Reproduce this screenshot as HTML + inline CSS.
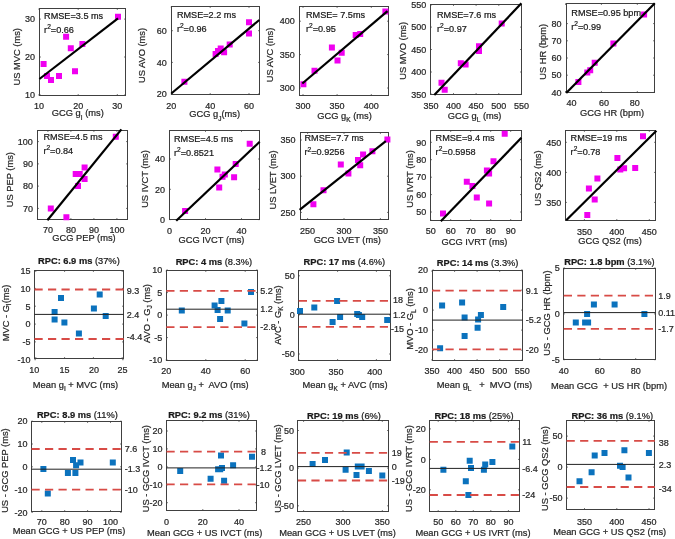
<!DOCTYPE html>
<html><head><meta charset="utf-8"><style>
html,body{margin:0;padding:0;background:#fff;width:675px;height:539px;overflow:hidden}
svg{display:block;font-family:"Liberation Sans", sans-serif;will-change:transform} text{stroke-width:0.22px}
</style></head><body>
<svg width="675" height="539" viewBox="0 0 675 539">
<rect width="675" height="539" fill="#fff"/>
<rect x="39.5" y="8.5" width="86.0" height="87.0" fill="none" stroke="#404040" stroke-width="1"/>
<path d="M39.0 95.5v-1.2M39.0 8.5v1.2" stroke="#404040" stroke-width="1"/>
<path d="M78.2 95.5v-1.2M78.2 8.5v1.2" stroke="#404040" stroke-width="1"/>
<path d="M117.3 95.5v-1.2M117.3 8.5v1.2" stroke="#404040" stroke-width="1"/>
<path d="M39.5 95.0h1.2M125.5 95.0h-1.2" stroke="#404040" stroke-width="1"/>
<path d="M39.5 57.0h1.2M125.5 57.0h-1.2" stroke="#404040" stroke-width="1"/>
<path d="M39.5 19.1h1.2M125.5 19.1h-1.2" stroke="#404040" stroke-width="1"/>
<path d="M40.6 61.0h6v6h-6zM44.0 72.9h6v6h-6zM48.0 77.0h6v6h-6zM56.0 72.9h6v6h-6zM63.1 33.7h6v6h-6zM67.8 45.3h6v6h-6zM72.0 68.3h6v6h-6zM79.4 41.1h6v6h-6zM115.0 13.7h6v6h-6z" fill="#f000f0"/>
<line x1="39.4" y1="79" x2="118" y2="18.3" stroke="#000" stroke-width="2.2"/>
<text x="34.9" y="98.2" font-size="9.0" text-anchor="end" fill="#262626" stroke="#262626" >10</text>
<text x="34.9" y="60.3" font-size="9.0" text-anchor="end" fill="#262626" stroke="#262626" >20</text>
<text x="34.9" y="22.3" font-size="9.0" text-anchor="end" fill="#262626" stroke="#262626" >30</text>
<text x="39.0" y="109.2" font-size="9.0" text-anchor="middle" fill="#262626" stroke="#262626" >10</text>
<text x="78.2" y="109.2" font-size="9.0" text-anchor="middle" fill="#262626" stroke="#262626" >20</text>
<text x="117.3" y="109.2" font-size="9.0" text-anchor="middle" fill="#262626" stroke="#262626" >30</text>
<text x="44.1" y="18.9" font-size="9.15" text-anchor="start" fill="#1a1a1a" stroke="#1a1a1a" >RMSE=3.5 ms</text>
<text x="44.1" y="32.9" font-size="9.15" text-anchor="start" fill="#1a1a1a" stroke="#1a1a1a" >r<tspan font-size="6.6" dy="-3.8">2</tspan><tspan dy="3.8">=0.66</tspan></text>
<text x="16.7" y="60.1" font-size="9.3" text-anchor="middle" fill="#262626" stroke="#262626" transform="rotate(-90 16.7 56.8)">US MVC (ms)</text>
<text x="77.8" y="115.8" font-size="9.3" text-anchor="middle" fill="#262626" stroke="#262626">GCG g<tspan font-size="6.5" dy="4.2">I</tspan><tspan dy="-4.2"> </tspan>(ms)</text>
<rect x="171.5" y="6.5" width="88.0" height="88.0" fill="none" stroke="#404040" stroke-width="1"/>
<path d="M171.3 94.5v-1.2M171.3 6.5v1.2" stroke="#404040" stroke-width="1"/>
<path d="M210.2 94.5v-1.2M210.2 6.5v1.2" stroke="#404040" stroke-width="1"/>
<path d="M249.0 94.5v-1.2M249.0 6.5v1.2" stroke="#404040" stroke-width="1"/>
<path d="M171.5 94.0h1.2M259.5 94.0h-1.2" stroke="#404040" stroke-width="1"/>
<path d="M171.5 62.4h1.2M259.5 62.4h-1.2" stroke="#404040" stroke-width="1"/>
<path d="M171.5 30.7h1.2M259.5 30.7h-1.2" stroke="#404040" stroke-width="1"/>
<path d="M181.4 78.7h6v6h-6zM212.6 51.1h6v6h-6zM217.7 45.6h6v6h-6zM221.1 49.3h6v6h-6zM226.7 41.5h6v6h-6zM246.0 19.3h6v6h-6zM246.0 30.4h6v6h-6zM215.0 48.0h6v6h-6z" fill="#f000f0"/>
<line x1="171.3" y1="93.5" x2="259.3" y2="20" stroke="#000" stroke-width="2.2"/>
<text x="166.8" y="97.2" font-size="9.0" text-anchor="end" fill="#262626" stroke="#262626" >20</text>
<text x="166.8" y="65.6" font-size="9.0" text-anchor="end" fill="#262626" stroke="#262626" >40</text>
<text x="166.8" y="33.9" font-size="9.0" text-anchor="end" fill="#262626" stroke="#262626" >60</text>
<text x="171.3" y="109.2" font-size="9.0" text-anchor="middle" fill="#262626" stroke="#262626" >20</text>
<text x="210.2" y="109.2" font-size="9.0" text-anchor="middle" fill="#262626" stroke="#262626" >40</text>
<text x="249.0" y="109.2" font-size="9.0" text-anchor="middle" fill="#262626" stroke="#262626" >60</text>
<text x="176.9" y="18.0" font-size="9.15" text-anchor="start" fill="#1a1a1a" stroke="#1a1a1a" >RMSE=2.2 ms</text>
<text x="176.9" y="32.0" font-size="9.15" text-anchor="start" fill="#1a1a1a" stroke="#1a1a1a" >r<tspan font-size="6.6" dy="-3.8">2</tspan><tspan dy="3.8">=0.96</tspan></text>
<text x="142.0" y="58.8" font-size="9.3" text-anchor="middle" fill="#262626" stroke="#262626" transform="rotate(-90 142.0 55.5)">US AVO (ms)</text>
<text x="214.6" y="117.3" font-size="9.3" text-anchor="middle" fill="#262626" stroke="#262626">GCG g<tspan font-size="6.5" dy="3.5">J</tspan><tspan dy="-3.5">(ms)</tspan></text>
<rect x="299.5" y="6.5" width="89.0" height="89.0" fill="none" stroke="#404040" stroke-width="1"/>
<path d="M303.0 95.5v-1.2M303.0 6.5v1.2" stroke="#404040" stroke-width="1"/>
<path d="M337.1 95.5v-1.2M337.1 6.5v1.2" stroke="#404040" stroke-width="1"/>
<path d="M371.3 95.5v-1.2M371.3 6.5v1.2" stroke="#404040" stroke-width="1"/>
<path d="M299.5 88.0h1.2M388.5 88.0h-1.2" stroke="#404040" stroke-width="1"/>
<path d="M299.5 54.6h1.2M388.5 54.6h-1.2" stroke="#404040" stroke-width="1"/>
<path d="M299.5 21.2h1.2M388.5 21.2h-1.2" stroke="#404040" stroke-width="1"/>
<path d="M300.4 81.2h6v6h-6zM311.5 67.8h6v6h-6zM328.9 44.4h6v6h-6zM334.5 57.6h6v6h-6zM338.7 49.8h6v6h-6zM352.7 32.0h6v6h-6zM357.2 30.9h6v6h-6zM382.4 8.6h6v6h-6z" fill="#f000f0"/>
<line x1="302.3" y1="83.5" x2="387.5" y2="11.2" stroke="#000" stroke-width="2.2"/>
<text x="294.9" y="91.2" font-size="9.0" text-anchor="end" fill="#262626" stroke="#262626" >300</text>
<text x="294.9" y="57.8" font-size="9.0" text-anchor="end" fill="#262626" stroke="#262626" >350</text>
<text x="294.9" y="24.4" font-size="9.0" text-anchor="end" fill="#262626" stroke="#262626" >400</text>
<text x="303.0" y="109.2" font-size="9.0" text-anchor="middle" fill="#262626" stroke="#262626" >300</text>
<text x="337.1" y="109.2" font-size="9.0" text-anchor="middle" fill="#262626" stroke="#262626" >350</text>
<text x="371.3" y="109.2" font-size="9.0" text-anchor="middle" fill="#262626" stroke="#262626" >400</text>
<text x="306.0" y="18.0" font-size="9.15" text-anchor="start" fill="#1a1a1a" stroke="#1a1a1a" >RMSE= 7.5ms</text>
<text x="306.0" y="32.0" font-size="9.15" text-anchor="start" fill="#1a1a1a" stroke="#1a1a1a" >r<tspan font-size="6.6" dy="-3.8">2</tspan><tspan dy="3.8">=0.95</tspan></text>
<text x="270.0" y="58.3" font-size="9.3" text-anchor="middle" fill="#262626" stroke="#262626" transform="rotate(-90 270.0 55.0)">US AVC (ms)</text>
<text x="344.5" y="118.8" font-size="9.3" text-anchor="middle" fill="#262626" stroke="#262626">GCG g<tspan font-size="6.5" dy="3.5">K</tspan><tspan dy="-3.5"> </tspan>(ms)</text>
<rect x="430.5" y="4.5" width="91.0" height="90.0" fill="none" stroke="#404040" stroke-width="1"/>
<path d="M430.9 94.5v-1.2M430.9 4.5v1.2" stroke="#404040" stroke-width="1"/>
<path d="M453.5 94.5v-1.2M453.5 4.5v1.2" stroke="#404040" stroke-width="1"/>
<path d="M476.1 94.5v-1.2M476.1 4.5v1.2" stroke="#404040" stroke-width="1"/>
<path d="M498.8 94.5v-1.2M498.8 4.5v1.2" stroke="#404040" stroke-width="1"/>
<path d="M521.4 94.5v-1.2M521.4 4.5v1.2" stroke="#404040" stroke-width="1"/>
<path d="M430.5 94.5h1.2M521.5 94.5h-1.2" stroke="#404040" stroke-width="1"/>
<path d="M430.5 72.0h1.2M521.5 72.0h-1.2" stroke="#404040" stroke-width="1"/>
<path d="M430.5 49.5h1.2M521.5 49.5h-1.2" stroke="#404040" stroke-width="1"/>
<path d="M430.5 27.1h1.2M521.5 27.1h-1.2" stroke="#404040" stroke-width="1"/>
<path d="M430.5 4.6h1.2M521.5 4.6h-1.2" stroke="#404040" stroke-width="1"/>
<path d="M438.5 79.8h6v6h-6zM441.7 86.8h6v6h-6zM457.8 60.2h6v6h-6zM462.6 61.4h6v6h-6zM476.0 43.3h6v6h-6zM476.0 48.0h6v6h-6zM498.7 20.5h6v6h-6z" fill="#f000f0"/>
<line x1="434.3" y1="95" x2="521.4" y2="3.3" stroke="#000" stroke-width="2.2"/>
<text x="426.4" y="97.7" font-size="9.0" text-anchor="end" fill="#262626" stroke="#262626" >350</text>
<text x="426.4" y="75.3" font-size="9.0" text-anchor="end" fill="#262626" stroke="#262626" >400</text>
<text x="426.4" y="52.8" font-size="9.0" text-anchor="end" fill="#262626" stroke="#262626" >450</text>
<text x="426.4" y="30.3" font-size="9.0" text-anchor="end" fill="#262626" stroke="#262626" >500</text>
<text x="426.4" y="7.8" font-size="9.0" text-anchor="end" fill="#262626" stroke="#262626" >550</text>
<text x="430.9" y="109.2" font-size="9.0" text-anchor="middle" fill="#262626" stroke="#262626" >350</text>
<text x="453.5" y="109.2" font-size="9.0" text-anchor="middle" fill="#262626" stroke="#262626" >400</text>
<text x="476.1" y="109.2" font-size="9.0" text-anchor="middle" fill="#262626" stroke="#262626" >450</text>
<text x="498.8" y="109.2" font-size="9.0" text-anchor="middle" fill="#262626" stroke="#262626" >500</text>
<text x="521.4" y="109.2" font-size="9.0" text-anchor="middle" fill="#262626" stroke="#262626" >550</text>
<text x="437.0" y="17.5" font-size="9.15" text-anchor="start" fill="#1a1a1a" stroke="#1a1a1a" >RMSE=7.6 ms</text>
<text x="437.0" y="31.5" font-size="9.15" text-anchor="start" fill="#1a1a1a" stroke="#1a1a1a" >r<tspan font-size="6.6" dy="-3.8">2</tspan><tspan dy="3.8">=0.97</tspan></text>
<text x="402.8" y="54.1" font-size="9.3" text-anchor="middle" fill="#262626" stroke="#262626" transform="rotate(-90 402.8 50.8)">US MVO (ms)</text>
<text x="474.6" y="118.8" font-size="9.3" text-anchor="middle" fill="#262626" stroke="#262626">GCG g<tspan font-size="6.5" dy="3.5">L</tspan><tspan dy="-3.5"> </tspan>(ms)</text>
<rect x="566.5" y="3.5" width="88.0" height="89.0" fill="none" stroke="#404040" stroke-width="1"/>
<path d="M565.5 92.5v-1.2M565.5 3.5v1.2" stroke="#404040" stroke-width="1"/>
<path d="M601.4 92.5v-1.2M601.4 3.5v1.2" stroke="#404040" stroke-width="1"/>
<path d="M637.3 92.5v-1.2M637.3 3.5v1.2" stroke="#404040" stroke-width="1"/>
<path d="M566.5 92.4h1.2M654.5 92.4h-1.2" stroke="#404040" stroke-width="1"/>
<path d="M566.5 75.2h1.2M654.5 75.2h-1.2" stroke="#404040" stroke-width="1"/>
<path d="M566.5 58.0h1.2M654.5 58.0h-1.2" stroke="#404040" stroke-width="1"/>
<path d="M566.5 40.8h1.2M654.5 40.8h-1.2" stroke="#404040" stroke-width="1"/>
<path d="M566.5 23.6h1.2M654.5 23.6h-1.2" stroke="#404040" stroke-width="1"/>
<path d="M575.4 79.0h6v6h-6zM584.3 69.4h6v6h-6zM587.2 67.2h6v6h-6zM591.7 59.8h6v6h-6zM610.4 40.4h6v6h-6zM641.1 11.5h6v6h-6z" fill="#f000f0"/>
<line x1="566.2" y1="93.1" x2="654.8" y2="3.3" stroke="#000" stroke-width="2.2"/>
<text x="561.5" y="95.6" font-size="9.0" text-anchor="end" fill="#262626" stroke="#262626" >40</text>
<text x="561.5" y="78.4" font-size="9.0" text-anchor="end" fill="#262626" stroke="#262626" >50</text>
<text x="561.5" y="61.2" font-size="9.0" text-anchor="end" fill="#262626" stroke="#262626" >60</text>
<text x="561.5" y="44.0" font-size="9.0" text-anchor="end" fill="#262626" stroke="#262626" >70</text>
<text x="561.5" y="26.8" font-size="9.0" text-anchor="end" fill="#262626" stroke="#262626" >80</text>
<text x="571.4" y="105.6" font-size="9.0" text-anchor="middle" fill="#262626" stroke="#262626" >40</text>
<text x="604.0" y="105.6" font-size="9.0" text-anchor="middle" fill="#262626" stroke="#262626" >60</text>
<text x="634.8" y="105.6" font-size="9.0" text-anchor="middle" fill="#262626" stroke="#262626" >80</text>
<text x="571.3" y="16.0" font-size="9.15" text-anchor="start" fill="#1a1a1a" stroke="#1a1a1a" >RMSE=0.95 bpm</text>
<text x="571.3" y="30.0" font-size="9.15" text-anchor="start" fill="#1a1a1a" stroke="#1a1a1a" >r<tspan font-size="6.6" dy="-3.8">2</tspan><tspan dy="3.8">=0.99</tspan></text>
<text x="542.8" y="55.1" font-size="9.3" text-anchor="middle" fill="#262626" stroke="#262626" transform="rotate(-90 542.8 51.8)">US HR (bpm)</text>
<text x="612.0" y="116.3" font-size="9.3" text-anchor="middle" fill="#262626" stroke="#262626">GCG HR (bpm)</text>
<rect x="37.5" y="130.5" width="90.0" height="89.0" fill="none" stroke="#404040" stroke-width="1"/>
<path d="M47.9 219.5v-1.2M47.9 130.5v1.2" stroke="#404040" stroke-width="1"/>
<path d="M70.9 219.5v-1.2M70.9 130.5v1.2" stroke="#404040" stroke-width="1"/>
<path d="M93.9 219.5v-1.2M93.9 130.5v1.2" stroke="#404040" stroke-width="1"/>
<path d="M116.9 219.5v-1.2M116.9 130.5v1.2" stroke="#404040" stroke-width="1"/>
<path d="M37.5 208.4h1.2M127.5 208.4h-1.2" stroke="#404040" stroke-width="1"/>
<path d="M37.5 186.1h1.2M127.5 186.1h-1.2" stroke="#404040" stroke-width="1"/>
<path d="M37.5 163.9h1.2M127.5 163.9h-1.2" stroke="#404040" stroke-width="1"/>
<path d="M37.5 141.6h1.2M127.5 141.6h-1.2" stroke="#404040" stroke-width="1"/>
<path d="M47.8 205.4h6v6h-6zM63.4 214.3h6v6h-6zM72.7 171.1h6v6h-6zM76.7 171.1h6v6h-6zM75.0 183.1h6v6h-6zM81.6 164.4h6v6h-6zM81.6 176.0h6v6h-6zM112.8 133.7h6v6h-6z" fill="#f000f0"/>
<line x1="47.4" y1="220.2" x2="121.4" y2="129.4" stroke="#000" stroke-width="2.2"/>
<text x="32.9" y="211.6" font-size="9.0" text-anchor="end" fill="#262626" stroke="#262626" >70</text>
<text x="32.9" y="189.4" font-size="9.0" text-anchor="end" fill="#262626" stroke="#262626" >80</text>
<text x="32.9" y="167.1" font-size="9.0" text-anchor="end" fill="#262626" stroke="#262626" >90</text>
<text x="32.9" y="144.8" font-size="9.0" text-anchor="end" fill="#262626" stroke="#262626" >100</text>
<text x="47.9" y="233.4" font-size="9.0" text-anchor="middle" fill="#262626" stroke="#262626" >70</text>
<text x="70.9" y="233.4" font-size="9.0" text-anchor="middle" fill="#262626" stroke="#262626" >80</text>
<text x="93.9" y="233.4" font-size="9.0" text-anchor="middle" fill="#262626" stroke="#262626" >90</text>
<text x="116.9" y="233.4" font-size="9.0" text-anchor="middle" fill="#262626" stroke="#262626" >100</text>
<text x="43.4" y="139.8" font-size="9.15" text-anchor="start" fill="#1a1a1a" stroke="#1a1a1a" >RMSE=4.5 ms</text>
<text x="43.4" y="153.8" font-size="9.15" text-anchor="start" fill="#1a1a1a" stroke="#1a1a1a" >r<tspan font-size="6.6" dy="-3.8">2</tspan><tspan dy="3.8">=0.84</tspan></text>
<text x="9.4" y="182.9" font-size="9.3" text-anchor="middle" fill="#262626" stroke="#262626" transform="rotate(-90 9.4 179.6)">US PEP (ms)</text>
<text x="84.0" y="241.1" font-size="9.3" text-anchor="middle" fill="#262626" stroke="#262626">GCG PEP (ms)</text>
<rect x="169.5" y="130.5" width="90.0" height="89.0" fill="none" stroke="#404040" stroke-width="1"/>
<path d="M169.5 219.5v-1.2M169.5 130.5v1.2" stroke="#404040" stroke-width="1"/>
<path d="M205.5 219.5v-1.2M205.5 130.5v1.2" stroke="#404040" stroke-width="1"/>
<path d="M241.5 219.5v-1.2M241.5 130.5v1.2" stroke="#404040" stroke-width="1"/>
<path d="M169.5 219.6h1.2M259.5 219.6h-1.2" stroke="#404040" stroke-width="1"/>
<path d="M169.5 189.3h1.2M259.5 189.3h-1.2" stroke="#404040" stroke-width="1"/>
<path d="M169.5 159.0h1.2M259.5 159.0h-1.2" stroke="#404040" stroke-width="1"/>
<path d="M182.1 207.9h6v6h-6zM214.4 166.4h6v6h-6zM216.2 184.5h6v6h-6zM219.5 173.8h6v6h-6zM221.8 171.6h6v6h-6zM231.1 174.2h6v6h-6zM232.7 160.9h6v6h-6zM246.7 140.8h6v6h-6z" fill="#f000f0"/>
<line x1="176.2" y1="220.7" x2="259.7" y2="141.8" stroke="#000" stroke-width="2.2"/>
<text x="165.0" y="222.8" font-size="9.0" text-anchor="end" fill="#262626" stroke="#262626" >0</text>
<text x="165.0" y="192.5" font-size="9.0" text-anchor="end" fill="#262626" stroke="#262626" >20</text>
<text x="165.0" y="162.2" font-size="9.0" text-anchor="end" fill="#262626" stroke="#262626" >40</text>
<text x="169.5" y="233.9" font-size="9.0" text-anchor="middle" fill="#262626" stroke="#262626" >0</text>
<text x="205.5" y="233.9" font-size="9.0" text-anchor="middle" fill="#262626" stroke="#262626" >20</text>
<text x="241.5" y="233.9" font-size="9.0" text-anchor="middle" fill="#262626" stroke="#262626" >40</text>
<text x="174.0" y="142.0" font-size="9.15" text-anchor="start" fill="#1a1a1a" stroke="#1a1a1a" >RMSE=4.5 ms</text>
<text x="174.0" y="156.0" font-size="9.15" text-anchor="start" fill="#1a1a1a" stroke="#1a1a1a" >r<tspan font-size="6.6" dy="-3.8">2</tspan><tspan dy="3.8">=0.8521</tspan></text>
<text x="145.0" y="182.3" font-size="9.3" text-anchor="middle" fill="#262626" stroke="#262626" transform="rotate(-90 145.0 179.0)">US IVCT (ms)</text>
<text x="211.5" y="242.7" font-size="9.3" text-anchor="middle" fill="#262626" stroke="#262626">GCG IVCT (ms)</text>
<rect x="300.5" y="132.5" width="88.0" height="87.0" fill="none" stroke="#404040" stroke-width="1"/>
<path d="M307.6 219.5v-1.2M307.6 132.5v1.2" stroke="#404040" stroke-width="1"/>
<path d="M344.0 219.5v-1.2M344.0 132.5v1.2" stroke="#404040" stroke-width="1"/>
<path d="M380.4 219.5v-1.2M380.4 132.5v1.2" stroke="#404040" stroke-width="1"/>
<path d="M300.5 212.4h1.2M388.5 212.4h-1.2" stroke="#404040" stroke-width="1"/>
<path d="M300.5 176.2h1.2M388.5 176.2h-1.2" stroke="#404040" stroke-width="1"/>
<path d="M300.5 140.0h1.2M388.5 140.0h-1.2" stroke="#404040" stroke-width="1"/>
<path d="M310.4 201.2h6v6h-6zM320.5 187.2h6v6h-6zM337.8 161.5h6v6h-6zM345.4 170.5h6v6h-6zM355.0 157.1h6v6h-6zM357.2 162.2h6v6h-6zM360.1 151.5h6v6h-6zM369.4 148.2h6v6h-6zM384.4 136.6h6v6h-6z" fill="#f000f0"/>
<line x1="299.6" y1="209.8" x2="385.8" y2="141.2" stroke="#000" stroke-width="2.2"/>
<text x="295.5" y="215.6" font-size="9.0" text-anchor="end" fill="#262626" stroke="#262626" >250</text>
<text x="295.5" y="179.4" font-size="9.0" text-anchor="end" fill="#262626" stroke="#262626" >300</text>
<text x="295.5" y="143.2" font-size="9.0" text-anchor="end" fill="#262626" stroke="#262626" >350</text>
<text x="307.6" y="233.9" font-size="9.0" text-anchor="middle" fill="#262626" stroke="#262626" >250</text>
<text x="344.0" y="233.9" font-size="9.0" text-anchor="middle" fill="#262626" stroke="#262626" >300</text>
<text x="380.4" y="233.9" font-size="9.0" text-anchor="middle" fill="#262626" stroke="#262626" >350</text>
<text x="304.5" y="141.4" font-size="9.15" text-anchor="start" fill="#1a1a1a" stroke="#1a1a1a" >RMSE=7.7 ms</text>
<text x="304.5" y="155.4" font-size="9.15" text-anchor="start" fill="#1a1a1a" stroke="#1a1a1a" >r<tspan font-size="6.6" dy="-3.8">2</tspan><tspan dy="3.8">=0.9256</tspan></text>
<text x="272.7" y="183.3" font-size="9.3" text-anchor="middle" fill="#262626" stroke="#262626" transform="rotate(-90 272.7 180.0)">US LVET (ms)</text>
<text x="347.3" y="243.1" font-size="9.3" text-anchor="middle" fill="#262626" stroke="#262626">GCG LVET (ms)</text>
<rect x="430.5" y="130.5" width="91.0" height="90.0" fill="none" stroke="#404040" stroke-width="1"/>
<path d="M430.7 220.5v-1.2M430.7 130.5v1.2" stroke="#404040" stroke-width="1"/>
<path d="M450.7 220.5v-1.2M450.7 130.5v1.2" stroke="#404040" stroke-width="1"/>
<path d="M470.7 220.5v-1.2M470.7 130.5v1.2" stroke="#404040" stroke-width="1"/>
<path d="M490.7 220.5v-1.2M490.7 130.5v1.2" stroke="#404040" stroke-width="1"/>
<path d="M510.7 220.5v-1.2M510.7 130.5v1.2" stroke="#404040" stroke-width="1"/>
<path d="M430.5 212.0h1.2M521.5 212.0h-1.2" stroke="#404040" stroke-width="1"/>
<path d="M430.5 194.6h1.2M521.5 194.6h-1.2" stroke="#404040" stroke-width="1"/>
<path d="M430.5 177.2h1.2M521.5 177.2h-1.2" stroke="#404040" stroke-width="1"/>
<path d="M430.5 159.7h1.2M521.5 159.7h-1.2" stroke="#404040" stroke-width="1"/>
<path d="M430.5 142.3h1.2M521.5 142.3h-1.2" stroke="#404040" stroke-width="1"/>
<path d="M440.0 210.5h6v6h-6zM463.8 178.7h6v6h-6zM469.4 183.1h6v6h-6zM473.8 194.5h6v6h-6zM483.9 167.6h6v6h-6zM486.1 170.5h6v6h-6zM486.1 200.5h6v6h-6zM490.5 158.2h6v6h-6zM501.7 130.8h6v6h-6z" fill="#f000f0"/>
<line x1="440.8" y1="221.3" x2="521.4" y2="137.8" stroke="#000" stroke-width="2.2"/>
<text x="426.2" y="215.2" font-size="9.0" text-anchor="end" fill="#262626" stroke="#262626" >50</text>
<text x="426.2" y="197.8" font-size="9.0" text-anchor="end" fill="#262626" stroke="#262626" >60</text>
<text x="426.2" y="180.4" font-size="9.0" text-anchor="end" fill="#262626" stroke="#262626" >70</text>
<text x="426.2" y="163.0" font-size="9.0" text-anchor="end" fill="#262626" stroke="#262626" >80</text>
<text x="426.2" y="145.5" font-size="9.0" text-anchor="end" fill="#262626" stroke="#262626" >90</text>
<text x="430.7" y="233.9" font-size="9.0" text-anchor="middle" fill="#262626" stroke="#262626" >50</text>
<text x="450.7" y="233.9" font-size="9.0" text-anchor="middle" fill="#262626" stroke="#262626" >60</text>
<text x="470.7" y="233.9" font-size="9.0" text-anchor="middle" fill="#262626" stroke="#262626" >70</text>
<text x="490.7" y="233.9" font-size="9.0" text-anchor="middle" fill="#262626" stroke="#262626" >80</text>
<text x="510.7" y="233.9" font-size="9.0" text-anchor="middle" fill="#262626" stroke="#262626" >90</text>
<text x="435.6" y="141.0" font-size="9.15" text-anchor="start" fill="#1a1a1a" stroke="#1a1a1a" >RMSE=9.4 ms</text>
<text x="435.6" y="155.0" font-size="9.15" text-anchor="start" fill="#1a1a1a" stroke="#1a1a1a" >r<tspan font-size="6.6" dy="-3.8">2</tspan><tspan dy="3.8">=0.5958</tspan></text>
<text x="409.4" y="182.3" font-size="9.3" text-anchor="middle" fill="#262626" stroke="#262626" transform="rotate(-90 409.4 179.0)">US IVRT (ms)</text>
<text x="474.5" y="244.7" font-size="9.3" text-anchor="middle" fill="#262626" stroke="#262626">GCG IVRT (ms)</text>
<rect x="565.5" y="130.5" width="90.0" height="90.0" fill="none" stroke="#404040" stroke-width="1"/>
<path d="M584.4 220.5v-1.2M584.4 130.5v1.2" stroke="#404040" stroke-width="1"/>
<path d="M616.8 220.5v-1.2M616.8 130.5v1.2" stroke="#404040" stroke-width="1"/>
<path d="M649.3 220.5v-1.2M649.3 130.5v1.2" stroke="#404040" stroke-width="1"/>
<path d="M565.5 202.4h1.2M655.5 202.4h-1.2" stroke="#404040" stroke-width="1"/>
<path d="M565.5 172.4h1.2M655.5 172.4h-1.2" stroke="#404040" stroke-width="1"/>
<path d="M565.5 142.3h1.2M655.5 142.3h-1.2" stroke="#404040" stroke-width="1"/>
<path d="M584.3 212.1h6v6h-6zM585.9 185.4h6v6h-6zM591.7 196.5h6v6h-6zM594.4 175.4h6v6h-6zM614.4 154.9h6v6h-6zM617.3 166.4h6v6h-6zM621.1 165.3h6v6h-6zM632.2 164.9h6v6h-6zM640.0 133.3h6v6h-6z" fill="#f000f0"/>
<line x1="566.2" y1="220.2" x2="656.4" y2="130.7" stroke="#000" stroke-width="2.2"/>
<text x="561.2" y="205.6" font-size="9.0" text-anchor="end" fill="#262626" stroke="#262626" >350</text>
<text x="561.2" y="175.6" font-size="9.0" text-anchor="end" fill="#262626" stroke="#262626" >400</text>
<text x="561.2" y="145.5" font-size="9.0" text-anchor="end" fill="#262626" stroke="#262626" >450</text>
<text x="584.4" y="234.5" font-size="9.0" text-anchor="middle" fill="#262626" stroke="#262626" >350</text>
<text x="616.8" y="234.5" font-size="9.0" text-anchor="middle" fill="#262626" stroke="#262626" >400</text>
<text x="649.3" y="234.5" font-size="9.0" text-anchor="middle" fill="#262626" stroke="#262626" >450</text>
<text x="570.6" y="141.0" font-size="9.15" text-anchor="start" fill="#1a1a1a" stroke="#1a1a1a" >RMSE=19 ms</text>
<text x="570.6" y="155.0" font-size="9.15" text-anchor="start" fill="#1a1a1a" stroke="#1a1a1a" >r<tspan font-size="6.6" dy="-3.8">2</tspan><tspan dy="3.8">=0.78</tspan></text>
<text x="537.7" y="181.3" font-size="9.3" text-anchor="middle" fill="#262626" stroke="#262626" transform="rotate(-90 537.7 178.0)">US QS2 (ms)</text>
<text x="610.0" y="244.3" font-size="9.3" text-anchor="middle" fill="#262626" stroke="#262626">GCG QS2 (ms)</text>
<rect x="34.5" y="270.5" width="89.0" height="88.0" fill="none" stroke="#404040" stroke-width="1"/>
<path d="M35.8 358.5v-1.2M35.8 270.5v1.2" stroke="#404040" stroke-width="1"/>
<path d="M64.6 358.5v-1.2M64.6 270.5v1.2" stroke="#404040" stroke-width="1"/>
<path d="M93.4 358.5v-1.2M93.4 270.5v1.2" stroke="#404040" stroke-width="1"/>
<path d="M122.2 358.5v-1.2M122.2 270.5v1.2" stroke="#404040" stroke-width="1"/>
<path d="M34.5 359.7h1.2M123.5 359.7h-1.2" stroke="#404040" stroke-width="1"/>
<path d="M34.5 341.9h1.2M123.5 341.9h-1.2" stroke="#404040" stroke-width="1"/>
<path d="M34.5 324.1h1.2M123.5 324.1h-1.2" stroke="#404040" stroke-width="1"/>
<path d="M34.5 306.2h1.2M123.5 306.2h-1.2" stroke="#404040" stroke-width="1"/>
<path d="M34.5 288.4h1.2M123.5 288.4h-1.2" stroke="#404040" stroke-width="1"/>
<path d="M34.5 270.6h1.2M123.5 270.6h-1.2" stroke="#404040" stroke-width="1"/>
<path d="M51.6 309.1h6v6h-6zM51.6 316.6h6v6h-6zM58.0 295.0h6v6h-6zM61.4 319.6h6v6h-6zM75.9 330.4h6v6h-6zM90.9 305.6h6v6h-6zM96.7 291.6h6v6h-6zM102.7 312.9h6v6h-6z" fill="#0b72bd"/>
<line x1="34.5" y1="289.5" x2="123.7" y2="289.5" stroke="#d84b46" stroke-width="1.8" stroke-dasharray="8.2 5.3" stroke-dashoffset="0"/>
<line x1="34.5" y1="339" x2="123.7" y2="339" stroke="#d84b46" stroke-width="1.8" stroke-dasharray="8.2 5.3" stroke-dashoffset="0"/>
<line x1="34.5" y1="314.4" x2="123.7" y2="314.4" stroke="#222" stroke-width="1"/>
<text x="30.5" y="362.9" font-size="9.0" text-anchor="end" fill="#262626" stroke="#262626" >-10</text>
<text x="30.5" y="345.1" font-size="9.0" text-anchor="end" fill="#262626" stroke="#262626" >-5</text>
<text x="30.5" y="327.3" font-size="9.0" text-anchor="end" fill="#262626" stroke="#262626" >0</text>
<text x="30.5" y="309.5" font-size="9.0" text-anchor="end" fill="#262626" stroke="#262626" >5</text>
<text x="30.5" y="291.7" font-size="9.0" text-anchor="end" fill="#262626" stroke="#262626" >10</text>
<text x="30.5" y="273.8" font-size="9.0" text-anchor="end" fill="#262626" stroke="#262626" >15</text>
<text x="34.3" y="372.8" font-size="9.0" text-anchor="middle" fill="#262626" stroke="#262626" >10</text>
<text x="64.6" y="372.8" font-size="9.0" text-anchor="middle" fill="#262626" stroke="#262626" >15</text>
<text x="93.9" y="372.8" font-size="9.0" text-anchor="middle" fill="#262626" stroke="#262626" >20</text>
<text x="122.4" y="372.8" font-size="9.0" text-anchor="middle" fill="#262626" stroke="#262626" >25</text>
<text x="126.7" y="293.6" font-size="9.0" text-anchor="start" fill="#262626" stroke="#262626" >9.3</text>
<text x="126.7" y="318.2" font-size="9.0" text-anchor="start" fill="#262626" stroke="#262626" >2.4</text>
<text x="126.7" y="340.0" font-size="9.0" text-anchor="start" fill="#262626" stroke="#262626" >-4.4</text>
<text x="78.9" y="263.8" font-size="9.3" text-anchor="middle" fill="#1a1a1a" stroke="#1a1a1a"><tspan font-weight="bold">RPC: 6.9 ms</tspan> <tspan>(37%)</tspan></text>
<text x="5.5" y="316.3" font-size="9.3" text-anchor="middle" fill="#262626" stroke="#262626" transform="rotate(-90 5.5 313.0)">MVC - G<tspan font-size="6.5" dy="2.5">I</tspan><tspan dy="-2.5">(ms)</tspan></text>
<text x="75.5" y="387.9" font-size="9.3" text-anchor="middle" fill="#262626" stroke="#262626">Mean g<tspan font-size="6.5" dy="3.5">I</tspan><tspan dy="-3.5"> </tspan>+ MVC (ms)</text>
<rect x="166.5" y="270.5" width="91.0" height="90.0" fill="none" stroke="#404040" stroke-width="1"/>
<path d="M166.3 360.5v-1.2M166.3 270.5v1.2" stroke="#404040" stroke-width="1"/>
<path d="M205.8 360.5v-1.2M205.8 270.5v1.2" stroke="#404040" stroke-width="1"/>
<path d="M245.2 360.5v-1.2M245.2 270.5v1.2" stroke="#404040" stroke-width="1"/>
<path d="M166.5 360.2h1.2M257.5 360.2h-1.2" stroke="#404040" stroke-width="1"/>
<path d="M166.5 337.6h1.2M257.5 337.6h-1.2" stroke="#404040" stroke-width="1"/>
<path d="M166.5 315.1h1.2M257.5 315.1h-1.2" stroke="#404040" stroke-width="1"/>
<path d="M166.5 292.6h1.2M257.5 292.6h-1.2" stroke="#404040" stroke-width="1"/>
<path d="M166.5 270.0h1.2M257.5 270.0h-1.2" stroke="#404040" stroke-width="1"/>
<path d="M178.8 307.6h6v6h-6zM211.6 302.6h6v6h-6zM214.6 307.1h6v6h-6zM218.4 297.9h6v6h-6zM217.1 315.9h6v6h-6zM224.7 307.6h6v6h-6zM241.4 320.4h6v6h-6zM248.0 289.1h6v6h-6z" fill="#0b72bd"/>
<line x1="166.3" y1="290.8" x2="257.2" y2="290.8" stroke="#d84b46" stroke-width="1.8" stroke-dasharray="8.2 5.3" stroke-dashoffset="0"/>
<line x1="166.3" y1="327.2" x2="257.2" y2="327.2" stroke="#d84b46" stroke-width="1.8" stroke-dasharray="8.2 5.3" stroke-dashoffset="0"/>
<line x1="166.3" y1="309.2" x2="257.2" y2="309.2" stroke="#222" stroke-width="1"/>
<text x="162.3" y="363.4" font-size="9.0" text-anchor="end" fill="#262626" stroke="#262626" >-10</text>
<text x="162.3" y="340.9" font-size="9.0" text-anchor="end" fill="#262626" stroke="#262626" >-5</text>
<text x="162.3" y="318.3" font-size="9.0" text-anchor="end" fill="#262626" stroke="#262626" >0</text>
<text x="162.3" y="295.8" font-size="9.0" text-anchor="end" fill="#262626" stroke="#262626" >5</text>
<text x="162.3" y="273.2" font-size="9.0" text-anchor="end" fill="#262626" stroke="#262626" >10</text>
<text x="166.3" y="374.0" font-size="9.0" text-anchor="middle" fill="#262626" stroke="#262626" >20</text>
<text x="205.8" y="374.0" font-size="9.0" text-anchor="middle" fill="#262626" stroke="#262626" >40</text>
<text x="245.2" y="374.0" font-size="9.0" text-anchor="middle" fill="#262626" stroke="#262626" >60</text>
<text x="260.2" y="294.0" font-size="9.0" text-anchor="start" fill="#262626" stroke="#262626" >5.2</text>
<text x="260.2" y="312.4" font-size="9.0" text-anchor="start" fill="#262626" stroke="#262626" >1.2</text>
<text x="260.2" y="330.4" font-size="9.0" text-anchor="start" fill="#262626" stroke="#262626" >-2.8</text>
<text x="213.9" y="265.3" font-size="9.3" text-anchor="middle" fill="#1a1a1a" stroke="#1a1a1a"><tspan font-weight="bold">RPC: 4 ms</tspan> <tspan>(8.3%)</tspan></text>
<text x="146.3" y="316.8" font-size="9.3" text-anchor="middle" fill="#262626" stroke="#262626" transform="rotate(-90 146.3 313.5)">AVO - G<tspan font-size="6.5" dy="2.5">J</tspan><tspan dy="-2.5"> </tspan>(ms)</text>
<text x="205.2" y="387.9" font-size="9.3" text-anchor="middle" fill="#262626" stroke="#262626">Mean g<tspan font-size="6.5" dy="3.5">J</tspan><tspan dy="-3.5"> </tspan>+&#160; AVO (ms)</text>
<rect x="298.5" y="270.5" width="92.0" height="90.0" fill="none" stroke="#404040" stroke-width="1"/>
<path d="M298.8 360.5v-1.2M298.8 270.5v1.2" stroke="#404040" stroke-width="1"/>
<path d="M337.6 360.5v-1.2M337.6 270.5v1.2" stroke="#404040" stroke-width="1"/>
<path d="M376.4 360.5v-1.2M376.4 270.5v1.2" stroke="#404040" stroke-width="1"/>
<path d="M298.5 354.0h1.2M390.5 354.0h-1.2" stroke="#404040" stroke-width="1"/>
<path d="M298.5 314.9h1.2M390.5 314.9h-1.2" stroke="#404040" stroke-width="1"/>
<path d="M298.5 275.8h1.2M390.5 275.8h-1.2" stroke="#404040" stroke-width="1"/>
<path d="M297.0 307.9h6v6h-6zM311.3 304.6h6v6h-6zM334.1 297.9h6v6h-6zM329.6 318.9h6v6h-6zM337.1 313.9h6v6h-6zM354.2 310.9h6v6h-6zM355.9 312.1h6v6h-6zM359.2 313.9h6v6h-6zM384.2 317.1h6v6h-6z" fill="#0b72bd"/>
<line x1="298.8" y1="300.9" x2="390.7" y2="300.9" stroke="#d84b46" stroke-width="1.8" stroke-dasharray="8.2 5.3" stroke-dashoffset="0"/>
<line x1="298.8" y1="326.9" x2="390.7" y2="326.9" stroke="#d84b46" stroke-width="1.8" stroke-dasharray="8.2 5.3" stroke-dashoffset="0"/>
<line x1="298.8" y1="314.2" x2="390.7" y2="314.2" stroke="#222" stroke-width="1"/>
<text x="294.8" y="357.2" font-size="9.0" text-anchor="end" fill="#262626" stroke="#262626" >-50</text>
<text x="294.8" y="318.1" font-size="9.0" text-anchor="end" fill="#262626" stroke="#262626" >0</text>
<text x="294.8" y="279.0" font-size="9.0" text-anchor="end" fill="#262626" stroke="#262626" >50</text>
<text x="297.3" y="375.2" font-size="9.0" text-anchor="middle" fill="#262626" stroke="#262626" >300</text>
<text x="336.0" y="375.2" font-size="9.0" text-anchor="middle" fill="#262626" stroke="#262626" >350</text>
<text x="374.7" y="375.2" font-size="9.0" text-anchor="middle" fill="#262626" stroke="#262626" >400</text>
<text x="393.0" y="302.5" font-size="9.0" text-anchor="start" fill="#262626" stroke="#262626" >18</text>
<text x="393.0" y="317.8" font-size="9.0" text-anchor="start" fill="#262626" stroke="#262626" >1.2</text>
<text x="391.0" y="331.6" font-size="9.0" text-anchor="start" fill="#262626" stroke="#262626" >-15</text>
<text x="344.4" y="265.3" font-size="9.3" text-anchor="middle" fill="#1a1a1a" stroke="#1a1a1a"><tspan font-weight="bold">RPC: 17 ms</tspan> <tspan>(4.6%)</tspan></text>
<text x="277.5" y="318.3" font-size="9.3" text-anchor="middle" fill="#262626" stroke="#262626" transform="rotate(-90 277.5 315.0)">AVC - G<tspan font-size="6.5" dy="2.5">K</tspan><tspan dy="-2.5"> </tspan>(ms)</text>
<text x="345.0" y="387.9" font-size="9.3" text-anchor="middle" fill="#262626" stroke="#262626">Mean g<tspan font-size="6.5" dy="3.5">K</tspan><tspan dy="-3.5"> </tspan>+ AVC (ms)</text>
<rect x="432.5" y="270.5" width="90.0" height="90.0" fill="none" stroke="#404040" stroke-width="1"/>
<path d="M432.0 360.5v-1.2M432.0 270.5v1.2" stroke="#404040" stroke-width="1"/>
<path d="M454.6 360.5v-1.2M454.6 270.5v1.2" stroke="#404040" stroke-width="1"/>
<path d="M477.1 360.5v-1.2M477.1 270.5v1.2" stroke="#404040" stroke-width="1"/>
<path d="M499.7 360.5v-1.2M499.7 270.5v1.2" stroke="#404040" stroke-width="1"/>
<path d="M522.2 360.5v-1.2M522.2 270.5v1.2" stroke="#404040" stroke-width="1"/>
<path d="M432.5 350.2h1.2M522.5 350.2h-1.2" stroke="#404040" stroke-width="1"/>
<path d="M432.5 330.1h1.2M522.5 330.1h-1.2" stroke="#404040" stroke-width="1"/>
<path d="M432.5 310.1h1.2M522.5 310.1h-1.2" stroke="#404040" stroke-width="1"/>
<path d="M432.5 290.1h1.2M522.5 290.1h-1.2" stroke="#404040" stroke-width="1"/>
<path d="M432.5 270.0h1.2M522.5 270.0h-1.2" stroke="#404040" stroke-width="1"/>
<path d="M439.1 302.6h6v6h-6zM459.1 299.6h6v6h-6zM461.6 314.6h6v6h-6zM461.6 332.9h6v6h-6zM475.1 316.6h6v6h-6zM474.6 324.7h6v6h-6zM477.9 312.1h6v6h-6zM500.2 304.1h6v6h-6zM437.1 345.2h6v6h-6z" fill="#0b72bd"/>
<line x1="432" y1="290.6" x2="522.7" y2="290.6" stroke="#d84b46" stroke-width="1.8" stroke-dasharray="8.2 5.3" stroke-dashoffset="0"/>
<line x1="432" y1="349.4" x2="522.7" y2="349.4" stroke="#d84b46" stroke-width="1.8" stroke-dasharray="8.2 5.3" stroke-dashoffset="0"/>
<line x1="432" y1="320.1" x2="522.7" y2="320.1" stroke="#222" stroke-width="1"/>
<text x="428.0" y="353.4" font-size="9.0" text-anchor="end" fill="#262626" stroke="#262626" >-20</text>
<text x="428.0" y="333.4" font-size="9.0" text-anchor="end" fill="#262626" stroke="#262626" >-10</text>
<text x="428.0" y="313.3" font-size="9.0" text-anchor="end" fill="#262626" stroke="#262626" >0</text>
<text x="428.0" y="293.3" font-size="9.0" text-anchor="end" fill="#262626" stroke="#262626" >10</text>
<text x="428.0" y="273.2" font-size="9.0" text-anchor="end" fill="#262626" stroke="#262626" >20</text>
<text x="432.0" y="374.0" font-size="9.0" text-anchor="middle" fill="#262626" stroke="#262626" >350</text>
<text x="454.6" y="374.0" font-size="9.0" text-anchor="middle" fill="#262626" stroke="#262626" >400</text>
<text x="477.1" y="374.0" font-size="9.0" text-anchor="middle" fill="#262626" stroke="#262626" >450</text>
<text x="499.7" y="374.0" font-size="9.0" text-anchor="middle" fill="#262626" stroke="#262626" >500</text>
<text x="522.2" y="374.0" font-size="9.0" text-anchor="middle" fill="#262626" stroke="#262626" >550</text>
<text x="525.7" y="293.8" font-size="9.0" text-anchor="start" fill="#262626" stroke="#262626" >9.1</text>
<text x="525.7" y="323.3" font-size="9.0" text-anchor="start" fill="#262626" stroke="#262626" >-5.2</text>
<text x="525.7" y="352.6" font-size="9.0" text-anchor="start" fill="#262626" stroke="#262626" >-20</text>
<text x="477.6" y="265.8" font-size="9.3" text-anchor="middle" fill="#1a1a1a" stroke="#1a1a1a"><tspan font-weight="bold">RPC: 14 ms</tspan> <tspan>(3.3%)</tspan></text>
<text x="409.8" y="322.3" font-size="9.3" text-anchor="middle" fill="#262626" stroke="#262626" transform="rotate(-90 409.8 319.0)">MVO - G<tspan font-size="6.5" dy="2.5">L</tspan><tspan dy="-2.5"> </tspan>(ms)</text>
<text x="484.5" y="387.9" font-size="9.3" text-anchor="middle" fill="#262626" stroke="#262626">Mean g<tspan font-size="6.5" dy="3.5">L</tspan><tspan dy="-3.5"> </tspan>&#160; +&#160; MVO (ms)</text>
<rect x="563.5" y="268.5" width="92.0" height="91.0" fill="none" stroke="#404040" stroke-width="1"/>
<path d="M563.8 359.5v-1.2M563.8 268.5v1.2" stroke="#404040" stroke-width="1"/>
<path d="M599.8 359.5v-1.2M599.8 268.5v1.2" stroke="#404040" stroke-width="1"/>
<path d="M635.7 359.5v-1.2M635.7 268.5v1.2" stroke="#404040" stroke-width="1"/>
<path d="M563.5 359.7h1.2M655.5 359.7h-1.2" stroke="#404040" stroke-width="1"/>
<path d="M563.5 313.9h1.2M655.5 313.9h-1.2" stroke="#404040" stroke-width="1"/>
<path d="M563.5 268.0h1.2M655.5 268.0h-1.2" stroke="#404040" stroke-width="1"/>
<path d="M572.8 319.6h6v6h-6zM582.1 319.6h6v6h-6zM585.1 319.6h6v6h-6zM584.1 310.9h6v6h-6zM590.9 301.6h6v6h-6zM611.6 301.6h6v6h-6zM641.4 310.9h6v6h-6z" fill="#0b72bd"/>
<line x1="563.8" y1="295.6" x2="655.2" y2="295.6" stroke="#d84b46" stroke-width="1.8" stroke-dasharray="8.2 5.3" stroke-dashoffset="0"/>
<line x1="563.8" y1="328.9" x2="655.2" y2="328.9" stroke="#d84b46" stroke-width="1.8" stroke-dasharray="8.2 5.3" stroke-dashoffset="0"/>
<line x1="563.8" y1="312.6" x2="655.2" y2="312.6" stroke="#222" stroke-width="1"/>
<text x="559.8" y="362.9" font-size="9.0" text-anchor="end" fill="#262626" stroke="#262626" >-5</text>
<text x="559.8" y="317.1" font-size="9.0" text-anchor="end" fill="#262626" stroke="#262626" >0</text>
<text x="559.8" y="271.2" font-size="9.0" text-anchor="end" fill="#262626" stroke="#262626" >5</text>
<text x="563.8" y="374.0" font-size="9.0" text-anchor="middle" fill="#262626" stroke="#262626" >40</text>
<text x="599.8" y="374.0" font-size="9.0" text-anchor="middle" fill="#262626" stroke="#262626" >60</text>
<text x="635.7" y="374.0" font-size="9.0" text-anchor="middle" fill="#262626" stroke="#262626" >80</text>
<text x="658.2" y="298.8" font-size="9.0" text-anchor="start" fill="#262626" stroke="#262626" >1.9</text>
<text x="658.2" y="315.8" font-size="9.0" text-anchor="start" fill="#262626" stroke="#262626" >0.11</text>
<text x="658.2" y="332.1" font-size="9.0" text-anchor="start" fill="#262626" stroke="#262626" >-1.7</text>
<text x="609.4" y="264.6" font-size="9.3" text-anchor="middle" fill="#1a1a1a" stroke="#1a1a1a"><tspan font-weight="bold">RPC: 1.8 bpm</tspan> <tspan>(3.1%)</tspan></text>
<text x="546.3" y="316.3" font-size="9.3" text-anchor="middle" fill="#262626" stroke="#262626" transform="rotate(-90 546.3 313.0)">US - GCG HR (bpm)</text>
<text x="609.0" y="388.6" font-size="9.3" text-anchor="middle" fill="#262626" stroke="#262626">Mean GCG&#160; + US HR (bpm)</text>
<rect x="31.5" y="421.5" width="90.0" height="90.0" fill="none" stroke="#404040" stroke-width="1"/>
<path d="M41.8 511.5v-1.2M41.8 421.5v1.2" stroke="#404040" stroke-width="1"/>
<path d="M64.7 511.5v-1.2M64.7 421.5v1.2" stroke="#404040" stroke-width="1"/>
<path d="M87.6 511.5v-1.2M87.6 421.5v1.2" stroke="#404040" stroke-width="1"/>
<path d="M110.5 511.5v-1.2M110.5 421.5v1.2" stroke="#404040" stroke-width="1"/>
<path d="M31.5 512.3h1.2M121.5 512.3h-1.2" stroke="#404040" stroke-width="1"/>
<path d="M31.5 489.5h1.2M121.5 489.5h-1.2" stroke="#404040" stroke-width="1"/>
<path d="M31.5 466.8h1.2M121.5 466.8h-1.2" stroke="#404040" stroke-width="1"/>
<path d="M31.5 444.0h1.2M121.5 444.0h-1.2" stroke="#404040" stroke-width="1"/>
<path d="M31.5 421.2h1.2M121.5 421.2h-1.2" stroke="#404040" stroke-width="1"/>
<path d="M40.4 465.9h6v6h-6zM44.8 490.4h6v6h-6zM64.9 470.0h6v6h-6zM70.0 457.1h6v6h-6zM72.4 470.0h6v6h-6zM73.1 462.3h6v6h-6zM77.5 459.5h6v6h-6zM109.8 459.5h6v6h-6z" fill="#0b72bd"/>
<line x1="31.5" y1="449" x2="121.8" y2="449" stroke="#d84b46" stroke-width="1.8" stroke-dasharray="8.2 5.3" stroke-dashoffset="0"/>
<line x1="31.5" y1="489.6" x2="121.8" y2="489.6" stroke="#d84b46" stroke-width="1.8" stroke-dasharray="8.2 5.3" stroke-dashoffset="0"/>
<line x1="31.5" y1="469.2" x2="121.8" y2="469.2" stroke="#222" stroke-width="1"/>
<text x="27.5" y="515.5" font-size="9.0" text-anchor="end" fill="#262626" stroke="#262626" >-20</text>
<text x="27.5" y="492.8" font-size="9.0" text-anchor="end" fill="#262626" stroke="#262626" >-10</text>
<text x="27.5" y="470.0" font-size="9.0" text-anchor="end" fill="#262626" stroke="#262626" >0</text>
<text x="27.5" y="447.2" font-size="9.0" text-anchor="end" fill="#262626" stroke="#262626" >10</text>
<text x="27.5" y="424.4" font-size="9.0" text-anchor="end" fill="#262626" stroke="#262626" >20</text>
<text x="41.8" y="525.2" font-size="9.0" text-anchor="middle" fill="#262626" stroke="#262626" >70</text>
<text x="64.7" y="525.2" font-size="9.0" text-anchor="middle" fill="#262626" stroke="#262626" >80</text>
<text x="87.6" y="525.2" font-size="9.0" text-anchor="middle" fill="#262626" stroke="#262626" >90</text>
<text x="110.5" y="525.2" font-size="9.0" text-anchor="middle" fill="#262626" stroke="#262626" >100</text>
<text x="124.8" y="452.2" font-size="9.0" text-anchor="start" fill="#262626" stroke="#262626" >7.6</text>
<text x="124.8" y="472.4" font-size="9.0" text-anchor="start" fill="#262626" stroke="#262626" >-1.3</text>
<text x="124.8" y="492.8" font-size="9.0" text-anchor="start" fill="#262626" stroke="#262626" >-10</text>
<text x="77.4" y="418.0" font-size="9.3" text-anchor="middle" fill="#1a1a1a" stroke="#1a1a1a"><tspan font-weight="bold">RPC: 8.9 ms</tspan> <tspan>(11%)</tspan></text>
<text x="5.2" y="473.9" font-size="9.3" text-anchor="middle" fill="#262626" stroke="#262626" transform="rotate(-90 5.2 470.6)">US - GCG PEP (ms)</text>
<text x="69.0" y="533.7" font-size="9.3" text-anchor="middle" fill="#262626" stroke="#262626">Mean GCG + US PEP (ms)</text>
<rect x="166.5" y="420.5" width="90.0" height="90.0" fill="none" stroke="#404040" stroke-width="1"/>
<path d="M166.5 510.5v-1.2M166.5 420.5v1.2" stroke="#404040" stroke-width="1"/>
<path d="M202.8 510.5v-1.2M202.8 420.5v1.2" stroke="#404040" stroke-width="1"/>
<path d="M239.0 510.5v-1.2M239.0 420.5v1.2" stroke="#404040" stroke-width="1"/>
<path d="M166.5 502.7h1.2M256.5 502.7h-1.2" stroke="#404040" stroke-width="1"/>
<path d="M166.5 484.8h1.2M256.5 484.8h-1.2" stroke="#404040" stroke-width="1"/>
<path d="M166.5 466.9h1.2M256.5 466.9h-1.2" stroke="#404040" stroke-width="1"/>
<path d="M166.5 448.9h1.2M256.5 448.9h-1.2" stroke="#404040" stroke-width="1"/>
<path d="M166.5 431.0h1.2M256.5 431.0h-1.2" stroke="#404040" stroke-width="1"/>
<path d="M177.2 468.0h6v6h-6zM207.6 475.7h6v6h-6zM215.1 466.2h6v6h-6zM217.2 466.2h6v6h-6zM218.0 452.5h6v6h-6zM219.0 464.9h6v6h-6zM221.1 477.8h6v6h-6zM230.1 462.3h6v6h-6zM249.0 453.8h6v6h-6z" fill="#0b72bd"/>
<line x1="166.5" y1="451.6" x2="256" y2="451.6" stroke="#d84b46" stroke-width="1.8" stroke-dasharray="8.2 5.3" stroke-dashoffset="0"/>
<line x1="166.5" y1="484.4" x2="256" y2="484.4" stroke="#d84b46" stroke-width="1.8" stroke-dasharray="8.2 5.3" stroke-dashoffset="0"/>
<line x1="166.5" y1="467.9" x2="256" y2="467.9" stroke="#222" stroke-width="1"/>
<text x="162.5" y="505.9" font-size="9.0" text-anchor="end" fill="#262626" stroke="#262626" >-20</text>
<text x="162.5" y="488.0" font-size="9.0" text-anchor="end" fill="#262626" stroke="#262626" >-10</text>
<text x="162.5" y="470.1" font-size="9.0" text-anchor="end" fill="#262626" stroke="#262626" >0</text>
<text x="162.5" y="452.2" font-size="9.0" text-anchor="end" fill="#262626" stroke="#262626" >10</text>
<text x="162.5" y="434.2" font-size="9.0" text-anchor="end" fill="#262626" stroke="#262626" >20</text>
<text x="166.5" y="525.2" font-size="9.0" text-anchor="middle" fill="#262626" stroke="#262626" >0</text>
<text x="202.8" y="525.2" font-size="9.0" text-anchor="middle" fill="#262626" stroke="#262626" >20</text>
<text x="239.0" y="525.2" font-size="9.0" text-anchor="middle" fill="#262626" stroke="#262626" >40</text>
<text x="261.0" y="454.8" font-size="9.0" text-anchor="start" fill="#262626" stroke="#262626" >8</text>
<text x="256.5" y="471.1" font-size="9.0" text-anchor="start" fill="#262626" stroke="#262626" >-1.2</text>
<text x="256.5" y="487.6" font-size="9.0" text-anchor="start" fill="#262626" stroke="#262626" >-10</text>
<text x="209.0" y="418.0" font-size="9.3" text-anchor="middle" fill="#1a1a1a" stroke="#1a1a1a"><tspan font-weight="bold">RPC: 9.2 ms</tspan> <tspan>(31%)</tspan></text>
<text x="145.3" y="471.9" font-size="9.3" text-anchor="middle" fill="#262626" stroke="#262626" transform="rotate(-90 145.3 468.6)">US - GCG IVCT (ms)</text>
<text x="204.7" y="535.5" font-size="9.3" text-anchor="middle" fill="#262626" stroke="#262626">Mean GCG + US IVCT (ms)</text>
<rect x="297.5" y="420.5" width="91.0" height="91.0" fill="none" stroke="#404040" stroke-width="1"/>
<path d="M303.6 511.5v-1.2M303.6 420.5v1.2" stroke="#404040" stroke-width="1"/>
<path d="M343.0 511.5v-1.2M343.0 420.5v1.2" stroke="#404040" stroke-width="1"/>
<path d="M382.3 511.5v-1.2M382.3 420.5v1.2" stroke="#404040" stroke-width="1"/>
<path d="M297.5 505.8h1.2M388.5 505.8h-1.2" stroke="#404040" stroke-width="1"/>
<path d="M297.5 468.1h1.2M388.5 468.1h-1.2" stroke="#404040" stroke-width="1"/>
<path d="M297.5 430.5h1.2M388.5 430.5h-1.2" stroke="#404040" stroke-width="1"/>
<path d="M309.6 461.0h6v6h-6zM322.0 457.1h6v6h-6zM343.7 449.4h6v6h-6zM342.6 466.7h6v6h-6zM353.5 471.9h6v6h-6zM354.8 463.6h6v6h-6zM358.6 463.6h6v6h-6zM365.9 468.0h6v6h-6zM379.3 472.4h6v6h-6z" fill="#0b72bd"/>
<line x1="297.9" y1="452.9" x2="388.7" y2="452.9" stroke="#d84b46" stroke-width="1.8" stroke-dasharray="8.2 5.3" stroke-dashoffset="0"/>
<line x1="297.9" y1="480.5" x2="388.7" y2="480.5" stroke="#d84b46" stroke-width="1.8" stroke-dasharray="8.2 5.3" stroke-dashoffset="0"/>
<line x1="297.9" y1="466.6" x2="388.7" y2="466.6" stroke="#222" stroke-width="1"/>
<text x="293.9" y="509.0" font-size="9.0" text-anchor="end" fill="#262626" stroke="#262626" >-50</text>
<text x="293.9" y="471.4" font-size="9.0" text-anchor="end" fill="#262626" stroke="#262626" >0</text>
<text x="293.9" y="433.7" font-size="9.0" text-anchor="end" fill="#262626" stroke="#262626" >50</text>
<text x="303.6" y="525.2" font-size="9.0" text-anchor="middle" fill="#262626" stroke="#262626" >250</text>
<text x="343.0" y="525.2" font-size="9.0" text-anchor="middle" fill="#262626" stroke="#262626" >300</text>
<text x="382.3" y="525.2" font-size="9.0" text-anchor="middle" fill="#262626" stroke="#262626" >350</text>
<text x="391.7" y="456.1" font-size="9.0" text-anchor="start" fill="#262626" stroke="#262626" >19</text>
<text x="391.7" y="469.8" font-size="9.0" text-anchor="start" fill="#262626" stroke="#262626" >0</text>
<text x="391.7" y="483.7" font-size="9.0" text-anchor="start" fill="#262626" stroke="#262626" >-19</text>
<text x="344.0" y="418.8" font-size="9.3" text-anchor="middle" fill="#1a1a1a" stroke="#1a1a1a"><tspan font-weight="bold">RPC: 19 ms</tspan> <tspan>(6%)</tspan></text>
<text x="277.7" y="471.9" font-size="9.3" text-anchor="middle" fill="#262626" stroke="#262626" transform="rotate(-90 277.7 468.6)">US - GCG LVET (ms)</text>
<text x="337.5" y="536.3" font-size="9.3" text-anchor="middle" fill="#262626" stroke="#262626">Mean GCG + US LVET (ms)</text>
<rect x="429.5" y="420.5" width="90.0" height="91.0" fill="none" stroke="#404040" stroke-width="1"/>
<path d="M438.2 511.5v-1.2M438.2 420.5v1.2" stroke="#404040" stroke-width="1"/>
<path d="M455.8 511.5v-1.2M455.8 420.5v1.2" stroke="#404040" stroke-width="1"/>
<path d="M473.3 511.5v-1.2M473.3 420.5v1.2" stroke="#404040" stroke-width="1"/>
<path d="M490.8 511.5v-1.2M490.8 420.5v1.2" stroke="#404040" stroke-width="1"/>
<path d="M508.4 511.5v-1.2M508.4 420.5v1.2" stroke="#404040" stroke-width="1"/>
<path d="M429.5 489.8h1.2M519.5 489.8h-1.2" stroke="#404040" stroke-width="1"/>
<path d="M429.5 459.4h1.2M519.5 459.4h-1.2" stroke="#404040" stroke-width="1"/>
<path d="M429.5 428.9h1.2M519.5 428.9h-1.2" stroke="#404040" stroke-width="1"/>
<path d="M440.4 466.7h6v6h-6zM462.8 478.3h6v6h-6zM465.4 492.0h6v6h-6zM466.7 457.7h6v6h-6zM468.0 464.9h6v6h-6zM480.9 466.7h6v6h-6zM482.2 461.5h6v6h-6zM489.4 459.0h6v6h-6zM509.3 443.5h6v6h-6z" fill="#0b72bd"/>
<line x1="429.7" y1="441.8" x2="519.2" y2="441.8" stroke="#d84b46" stroke-width="1.8" stroke-dasharray="8.2 5.3" stroke-dashoffset="0"/>
<line x1="429.7" y1="495" x2="519.2" y2="495" stroke="#d84b46" stroke-width="1.8" stroke-dasharray="8.2 5.3" stroke-dashoffset="0"/>
<line x1="429.7" y1="468.4" x2="519.2" y2="468.4" stroke="#222" stroke-width="1"/>
<text x="425.7" y="493.0" font-size="9.0" text-anchor="end" fill="#262626" stroke="#262626" >-20</text>
<text x="425.7" y="462.6" font-size="9.0" text-anchor="end" fill="#262626" stroke="#262626" >0</text>
<text x="425.7" y="432.1" font-size="9.0" text-anchor="end" fill="#262626" stroke="#262626" >20</text>
<text x="438.2" y="525.2" font-size="9.0" text-anchor="middle" fill="#262626" stroke="#262626" >50</text>
<text x="455.8" y="525.2" font-size="9.0" text-anchor="middle" fill="#262626" stroke="#262626" >60</text>
<text x="473.3" y="525.2" font-size="9.0" text-anchor="middle" fill="#262626" stroke="#262626" >70</text>
<text x="490.8" y="525.2" font-size="9.0" text-anchor="middle" fill="#262626" stroke="#262626" >80</text>
<text x="508.4" y="525.2" font-size="9.0" text-anchor="middle" fill="#262626" stroke="#262626" >90</text>
<text x="522.2" y="445.0" font-size="9.0" text-anchor="start" fill="#262626" stroke="#262626" >11</text>
<text x="522.2" y="471.6" font-size="9.0" text-anchor="start" fill="#262626" stroke="#262626" >-6.4</text>
<text x="522.2" y="498.2" font-size="9.0" text-anchor="start" fill="#262626" stroke="#262626" >-24</text>
<text x="474.0" y="418.8" font-size="9.3" text-anchor="middle" fill="#1a1a1a" stroke="#1a1a1a"><tspan font-weight="bold">RPC: 18 ms</tspan> <tspan>(25%)</tspan></text>
<text x="409.0" y="471.9" font-size="9.3" text-anchor="middle" fill="#262626" stroke="#262626" transform="rotate(-90 409.0 468.6)">US - GCG IVRT (ms)</text>
<text x="473.0" y="536.3" font-size="9.3" text-anchor="middle" fill="#262626" stroke="#262626">Mean GCG + US IVRT (ms)</text>
<rect x="566.5" y="420.5" width="88.0" height="89.0" fill="none" stroke="#404040" stroke-width="1"/>
<path d="M584.5 509.5v-1.2M584.5 420.5v1.2" stroke="#404040" stroke-width="1"/>
<path d="M616.8 509.5v-1.2M616.8 420.5v1.2" stroke="#404040" stroke-width="1"/>
<path d="M649.0 509.5v-1.2M649.0 420.5v1.2" stroke="#404040" stroke-width="1"/>
<path d="M566.5 498.1h1.2M654.5 498.1h-1.2" stroke="#404040" stroke-width="1"/>
<path d="M566.5 467.1h1.2M654.5 467.1h-1.2" stroke="#404040" stroke-width="1"/>
<path d="M566.5 436.1h1.2M654.5 436.1h-1.2" stroke="#404040" stroke-width="1"/>
<path d="M576.5 478.3h6v6h-6zM588.6 469.3h6v6h-6zM591.7 452.5h6v6h-6zM601.5 449.9h6v6h-6zM617.0 462.8h6v6h-6zM619.6 464.1h6v6h-6zM621.4 447.3h6v6h-6zM625.5 474.4h6v6h-6zM645.9 449.9h6v6h-6z" fill="#0b72bd"/>
<line x1="566.6" y1="440.8" x2="654.8" y2="440.8" stroke="#d84b46" stroke-width="1.8" stroke-dasharray="8.2 5.3" stroke-dashoffset="0"/>
<line x1="566.6" y1="487" x2="654.8" y2="487" stroke="#d84b46" stroke-width="1.8" stroke-dasharray="8.2 5.3" stroke-dashoffset="0"/>
<line x1="566.6" y1="464.4" x2="654.8" y2="464.4" stroke="#222" stroke-width="1"/>
<text x="562.6" y="501.3" font-size="9.0" text-anchor="end" fill="#262626" stroke="#262626" >-50</text>
<text x="562.6" y="470.3" font-size="9.0" text-anchor="end" fill="#262626" stroke="#262626" >0</text>
<text x="562.6" y="439.3" font-size="9.0" text-anchor="end" fill="#262626" stroke="#262626" >50</text>
<text x="584.5" y="525.2" font-size="9.0" text-anchor="middle" fill="#262626" stroke="#262626" >350</text>
<text x="616.8" y="525.2" font-size="9.0" text-anchor="middle" fill="#262626" stroke="#262626" >400</text>
<text x="649.0" y="525.2" font-size="9.0" text-anchor="middle" fill="#262626" stroke="#262626" >450</text>
<text x="658.8" y="445.7" font-size="9.0" text-anchor="start" fill="#262626" stroke="#262626" >38</text>
<text x="658.8" y="467.8" font-size="9.0" text-anchor="start" fill="#262626" stroke="#262626" >2.3</text>
<text x="658.8" y="491.7" font-size="9.0" text-anchor="start" fill="#262626" stroke="#262626" >-34</text>
<text x="612.3" y="418.8" font-size="9.3" text-anchor="middle" fill="#1a1a1a" stroke="#1a1a1a"><tspan font-weight="bold">RPC: 36 ms</tspan> <tspan>(9.1%)</tspan></text>
<text x="544.6" y="471.9" font-size="9.3" text-anchor="middle" fill="#262626" stroke="#262626" transform="rotate(-90 544.6 468.6)">US - GCG QS2 (ms)</text>
<text x="609.7" y="535.3" font-size="9.3" text-anchor="middle" fill="#262626" stroke="#262626">Mean GCG + US QS2 (ms)</text>
</svg></body></html>
